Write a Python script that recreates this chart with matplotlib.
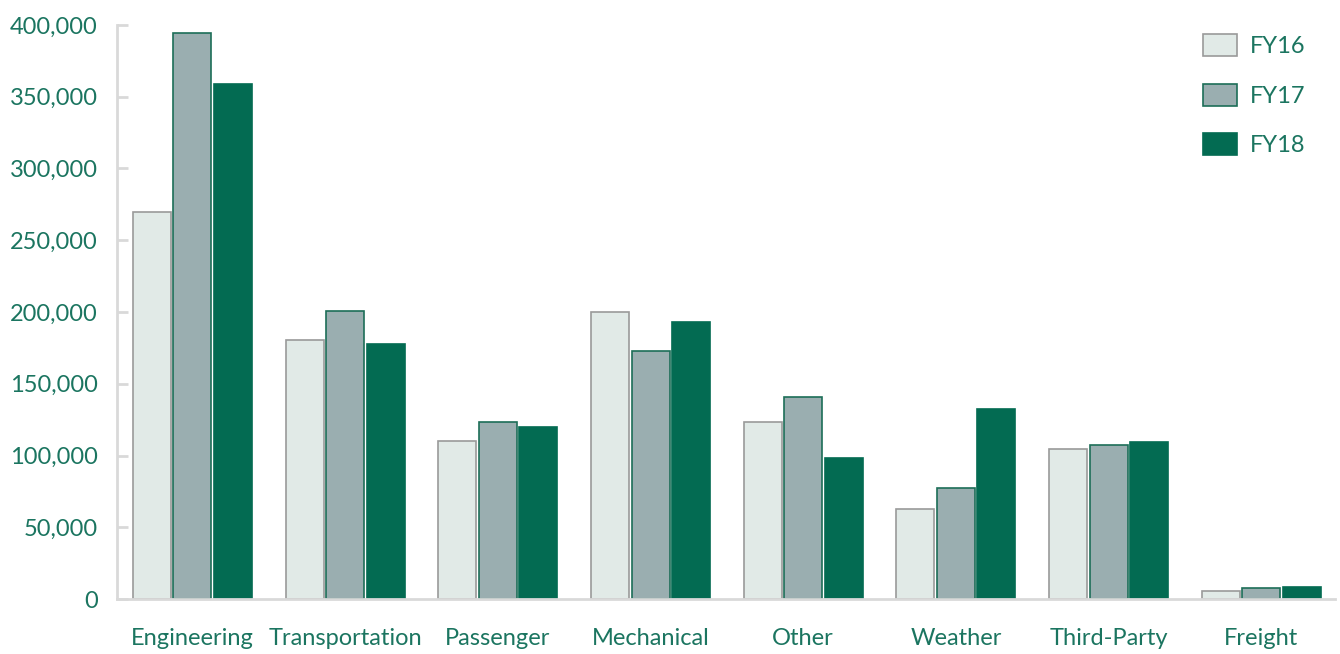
import matplotlib
matplotlib.use('Agg')
import matplotlib.pyplot as plt
from matplotlib.ticker import FuncFormatter
import numpy as np

plt.rcParams['font.family'] = ['Lato', 'DejaVu Sans']

# data
categories = ['Engineering', 'Transportation', 'Passenger', 'Mechanical',
              'Other', 'Weather', 'Third-Party', 'Freight']
fy16 = [269500, 180500, 110000, 200000, 123300, 62700, 104500, 5600]
fy17 = [394400, 200700, 123300, 172800, 140800, 77400, 107300, 7700]
fy18 = [358900, 177700, 119900, 193000, 98300, 132400, 109400, 8400]
series_names = ['FY16', 'FY17', 'FY18']

teal = '#1b7560'
faces = ['#e1eae7', '#9aaeb0', '#036b52']
edges = ['#9a9a9a', '#1d6e58', '#036b52']

fig = plt.figure(figsize=(13.4, 6.54), dpi=100)
ax = fig.add_axes([0.0873, 0.084, 0.9087, 0.878])

x = np.arange(len(categories))
w = 0.249
off = 0.265
for i, vals in enumerate([fy16, fy17, fy18]):
    ax.bar(x + (i - 1) * off, vals, width=w, color=faces[i],
           edgecolor=edges[i], linewidth=1.2, label=series_names[i])

ax.set_xlim(-0.494, 7.48)
ax.set_ylim(0, 400000)
ax.set_yticks(range(0, 400001, 50000))
ax.yaxis.set_major_formatter(FuncFormatter(lambda v, p: f'{int(v):,}'))
ax.set_xticks(x)
ax.set_xticklabels(categories)

for s in ['top', 'right']:
    ax.spines[s].set_visible(False)
for s in ['left', 'bottom']:
    ax.spines[s].set_color('#d9d9d9')
    ax.spines[s].set_linewidth(2)

ax.tick_params(axis='y', direction='in', length=8, width=2, color='#d9d9d9',
               labelcolor=teal, labelsize=17, pad=14)
ax.tick_params(axis='x', length=0, labelcolor=teal, labelsize=17, pad=21)

leg = ax.legend(loc='upper left', bbox_to_anchor=(0.884, 1.0), frameon=False,
                fontsize=17, handlelength=1.45, handleheight=1.05,
                labelspacing=1.12, handletextpad=0.55, borderaxespad=0.0)
for t in leg.get_texts():
    t.set_color(teal)

fig.savefig('out.png', dpi=100)
